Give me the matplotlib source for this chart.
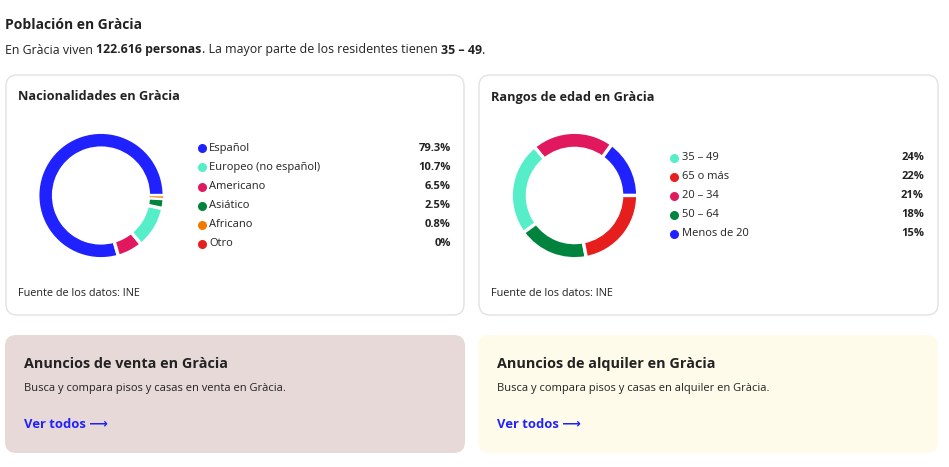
import matplotlib
matplotlib.use("Agg")
import matplotlib.pyplot as plt
from matplotlib.patches import FancyBboxPatch

plt.rcParams["font.family"] = ["Open Sans", "DejaVu Sans"]

# data (legend order)
nat_labels = ["Español", "Europeo (no español)", "Americano", "Asiático", "Africano", "Otro"]
nat_values = [79.3, 10.7, 6.5, 2.5, 0.8, 0.0]
nat_text = ["79.3%", "10.7%", "6.5%", "2.5%", "0.8%", "0%"]
nat_colors = ["#1f22ff", "#55eec8", "#e2185f", "#00843d", "#f07a00", "#e61e1e"]
# order of the slices around the ring (counter-clockwise from 3 o'clock)
nat_ring = [0, 2, 1, 3, 4]

# age groups in ring order (counter-clockwise from 3 o'clock)
age_labels = ["Menos de 20", "20 – 34", "35 – 49", "50 – 64", "65 o más"]
age_values = [15, 21, 24, 18, 22]
age_colors = ["#1f22ff", "#e2185f", "#55eec8", "#00843d", "#e61e1e"]

DARK = "#222222"
LINK = "#1f22ff"

fig = plt.figure(figsize=(9.49, 4.67), dpi=100)
ax = fig.add_axes([0, 0, 1, 1])
ax.set_xlim(0, 949)
ax.set_ylim(467, 0)
ax.axis("off")


def card(x0, y0, x1, y1, face, edge):
    ax.add_patch(FancyBboxPatch((x0, y0), x1 - x0, y1 - y0,
                                boxstyle="round,pad=0,rounding_size=11",
                                facecolor=face, edgecolor=edge, linewidth=1))


def rich(x, y, parts, size, gap=3.3):
    # parts: (text, bold, space before)
    t = ax.text(x, y, parts[0][0], fontsize=size, color=DARK,
                fontweight="bold" if parts[0][1] else "normal",
                va="center", ha="left")
    for s, bold, sp in parts[1:]:
        t = ax.annotate(s, xy=(1, 0), xycoords=t, va="bottom", ha="left",
                        xytext=(gap if sp else 0, 0), textcoords="offset pixels",
                        fontsize=size, color=DARK,
                        fontweight="bold" if bold else "normal")


# header
ax.text(5, 25, "Población en Gràcia", fontsize=10, fontweight="bold",
        color=DARK, va="center")
rich(5, 50, [("En Gràcia viven", False, False), ("122.616 personas", True, True),
             (". La mayor parte de los residentes tienen", False, False),
             ("35 – 49", True, True), (".", False, False)], 8.95)

# chart cards
card(6, 75, 464, 315, "white", "#e2e2e2")
card(479, 75, 938, 315, "white", "#e2e2e2")

ax.text(18, 97, "Nacionalidades en Gràcia", fontsize=9.2, fontweight="bold",
        color=DARK, va="center")
ax.text(491, 97, "Rangos de edad en Gràcia", fontsize=9.2, fontweight="bold",
        color=DARK, va="center")
ax.text(18, 294, "Fuente de los datos: INE", fontsize=7.8, color=DARK, va="center")
ax.text(491, 294, "Fuente de los datos: INE", fontsize=7.8, color=DARK, va="center")


def donut(cx, cy, r, values, colors, width):
    dax = fig.add_axes([(cx - r) / 949, 1 - (cy + r) / 467, 2 * r / 949, 2 * r / 467])
    wedges, _ = dax.pie(values, colors=colors, startangle=0, counterclock=True,
                        radius=1, wedgeprops=dict(width=width, edgecolor="white",
                                                  linewidth=2.4))
    total = sum(values)
    for w, v in zip(wedges, values):
        if v / total < 0.015:
            # thin slice: keep it visible, lighter gap
            w.set_linewidth(1.2)
            w.set_zorder(3)
    dax.set_xlim(-1.02, 1.02)
    dax.set_ylim(-1.02, 1.02)
    dax.set_aspect("equal")
    dax.axis("off")


donut(101, 195.5, 64.5, [nat_values[k] for k in nat_ring],
      [nat_colors[k] for k in nat_ring], 0.25)
donut(574.5, 195.5, 64.5, age_values, age_colors, 0.255)

# legends
for i, (lab, txt, col) in enumerate(zip(nat_labels, nat_text, nat_colors)):
    y = 148.3 + i * 19.1
    ax.scatter([202.3], [y], s=30, color=col, zorder=3)
    ax.text(209, y, lab, fontsize=8, color=DARK, va="center")
    ax.text(451, y, txt, fontsize=8, fontweight="bold", color=DARK,
            va="center", ha="right")

order = sorted(range(len(age_values)), key=lambda k: -age_values[k])
for i, k in enumerate(order):
    y = 157.5 + i * 19.1
    ax.scatter([674.5], [y], s=30, color=age_colors[k], zorder=3)
    ax.text(682, y, age_labels[k], fontsize=8, color=DARK, va="center")
    ax.text(924, y, f"{age_values[k]}%", fontsize=8, fontweight="bold",
            color=DARK, va="center", ha="right")

# listing cards
card(5, 335, 465, 453, "#e8d9d9", "none")
card(478, 335, 938, 453, "#fefbea", "none")

for x0, kind in [(24, "venta"), (497, "alquiler")]:
    ax.text(x0, 364, f"Anuncios de {kind} en Gràcia", fontsize=10.4,
            fontweight="bold", color=DARK, va="center")
    ax.text(x0, 388, f"Busca y compara pisos y casas en {kind} en Gràcia.",
            fontsize=8, color=DARK, va="center")
    ax.text(x0, 424, "Ver todos ⟶", fontsize=9.4, fontweight="bold",
            color=LINK, va="center")

fig.savefig("out.png", dpi=100, facecolor="white")
